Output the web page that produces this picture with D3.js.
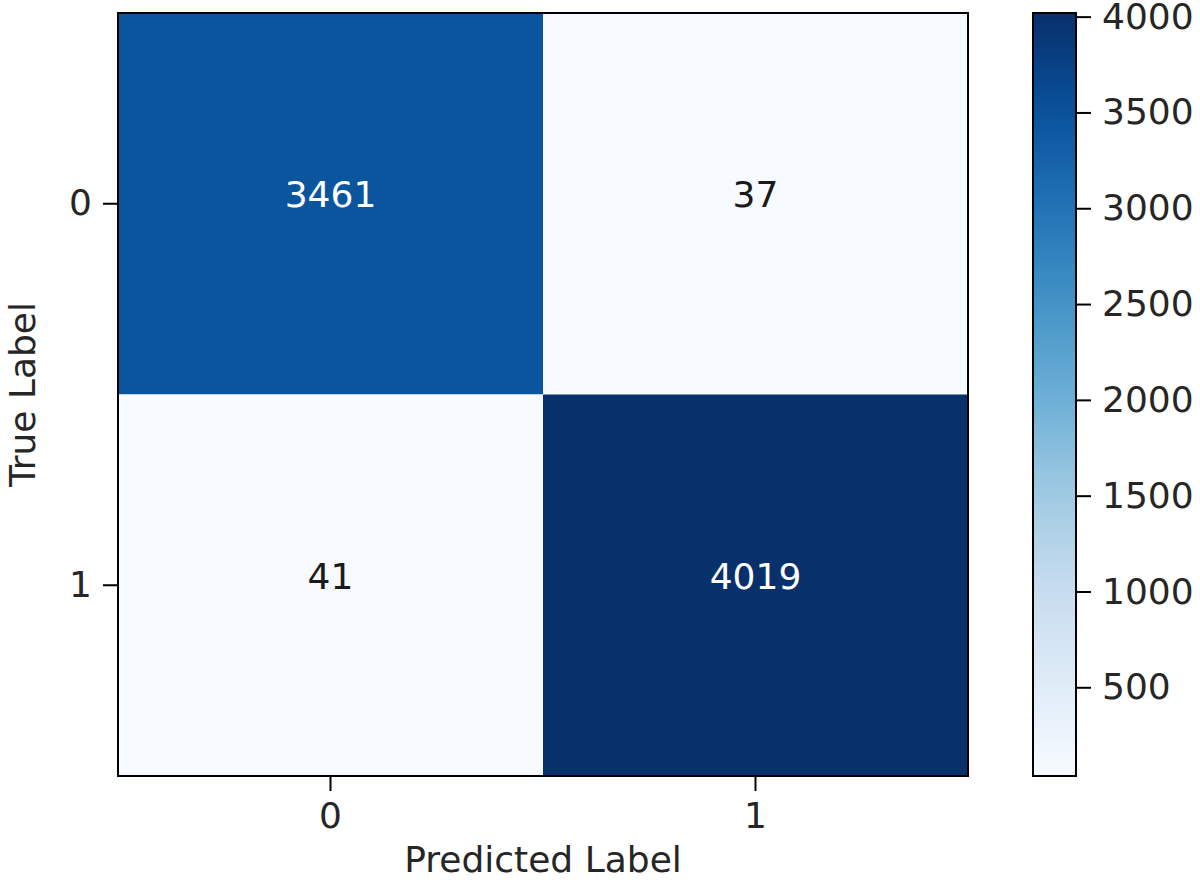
<!DOCTYPE html>
<html>
<head>
<meta charset="utf-8">
<script src="https://cdn.jsdelivr.net/npm/d3@7"></script>
<style>
  body { margin: 0; background: #fff; }
  text { font-family: "DejaVu Sans", sans-serif; fill: #262626; }
</style>
</head>
<body>
<div id="chart"></div>
<script>
// confusion matrix data
const trueLabels = ["0", "1"];
const predLabels = ["0", "1"];
const counts = [
    [3461, 37],
    [41, 4019]
];
const cbarTicks = [500, 1000, 1500, 2000, 2500, 3000, 3500, 4000];

// matplotlib "Blues" stops
const blues = ["#f7fbff", "#deebf7", "#c6dbef", "#9ecae1", "#6baed6",
               "#4292c6", "#2171b5", "#08519c", "#08306b"];

const W = 1200, H = 882;
const fontSize = 36;
const plot = { left: 118, top: 13, right: 968, bottom: 776 };
const cbar = { left: 1033, right: 1076 };

const cells = [];
counts.forEach((row, i) => row.forEach((v, j) => cells.push({ t: trueLabels[i], p: predLabels[j], v: v })));

const vmin = d3.min(cells, d => d.v), vmax = d3.max(cells, d => d.v);

const color = d3.scaleSequential(d3.piecewise(d3.interpolateRgb, blues))
    .domain([vmin, vmax]);

const x = d3.scaleBand().domain(predLabels).range([plot.left, plot.right]);
const y = d3.scaleBand().domain(trueLabels).range([plot.top, plot.bottom]);

const svg = d3.select("#chart").append("svg")
    .attr("width", W)
    .attr("height", H);

// cells
svg.selectAll("rect.cell")
    .data(cells)
    .enter()
    .append("rect")
    .attr("class", "cell")
    .attr("x", d => x(d.p))
    .attr("y", d => y(d.t))
    .attr("width", x.bandwidth())
    .attr("height", y.bandwidth())
    .attr("fill", d => color(d.v));

// cell values
const thresh = vmax / 2;
svg.selectAll("text.val")
    .data(cells)
    .enter()
    .append("text")
    .attr("class", "val")
    .attr("x", d => x(d.p) + x.bandwidth() / 2)
    .attr("y", d => y(d.t) + y.bandwidth() / 2)
    .attr("dy", "-0.25em")
    .attr("text-anchor", "middle")
    .attr("dominant-baseline", "central")
    .style("font-size", fontSize + "px")
    .style("fill", d => d.v > thresh ? "#ffffff" : "#1a1a1a")
    .text(d => d.v);

// axes (tick at band centres)
const tickLen = 15, tickPad = 11;

const xAxis = svg.append("g")
    .attr("transform", "translate(0," + plot.bottom + ")")
    .call(d3.axisBottom(x).tickSize(tickLen).tickPadding(tickPad));

const yAxis = svg.append("g")
    .attr("transform", "translate(" + plot.left + ",0)")
    .call(d3.axisLeft(y).tickSize(tickLen).tickPadding(tickPad));

[xAxis, yAxis].forEach(a => {
    a.select(".domain").remove();
    a.selectAll(".tick line").attr("stroke", "#000").attr("stroke-width", 2);
    a.selectAll(".tick text")
        .style("font-size", fontSize + "px")
        .style("font-family", "DejaVu Sans")
        .attr("fill", "#1a1a1a");
});

// frame
svg.append("rect")
    .attr("x", plot.left)
    .attr("y", plot.top)
    .attr("width", plot.right - plot.left)
    .attr("height", plot.bottom - plot.top)
    .attr("fill", "none")
    .attr("stroke", "#000")
    .attr("stroke-width", 2);

// axis titles
svg.append("text")
    .attr("x", (plot.left + plot.right) / 2)
    .attr("y", 872)
    .attr("text-anchor", "middle")
    .style("font-size", fontSize + "px")
    .text("Predicted Label");

svg.append("text")
    .attr("transform", "translate(35," + (plot.top + plot.bottom) / 2 + ") rotate(-90)")
    .attr("text-anchor", "middle")
    .style("font-size", fontSize + "px")
    .text("True Label");

// colorbar
const cy = d3.scaleLinear().domain([vmin, vmax]).range([plot.bottom, plot.top]);

const defs = svg.append("defs");
const grad = defs.append("linearGradient")
    .attr("id", "cbar")
    .attr("x1", 0).attr("y1", 1)
    .attr("x2", 0).attr("y2", 0);
grad.selectAll("stop")
    .data(d3.range(0, 1.0001, 0.05))
    .enter()
    .append("stop")
    .attr("offset", d => d)
    .attr("stop-color", d => color(vmin + d * (vmax - vmin)));

svg.append("rect")
    .attr("x", cbar.left)
    .attr("y", plot.top)
    .attr("width", cbar.right - cbar.left)
    .attr("height", plot.bottom - plot.top)
    .attr("fill", "url(#cbar)")
    .attr("stroke", "#000")
    .attr("stroke-width", 2);

const cAxis = svg.append("g")
    .attr("transform", "translate(" + cbar.right + ",0)")
    .call(d3.axisRight(cy).tickValues(cbarTicks).tickFormat(d3.format("d"))
        .tickSize(tickLen).tickPadding(tickPad));

cAxis.select(".domain").remove();
cAxis.selectAll(".tick line").attr("stroke", "#000").attr("stroke-width", 2);
cAxis.selectAll(".tick text")
    .style("font-size", fontSize + "px")
    .style("font-family", "DejaVu Sans")
    .attr("fill", "#1a1a1a");
</script>
</body>
</html>
